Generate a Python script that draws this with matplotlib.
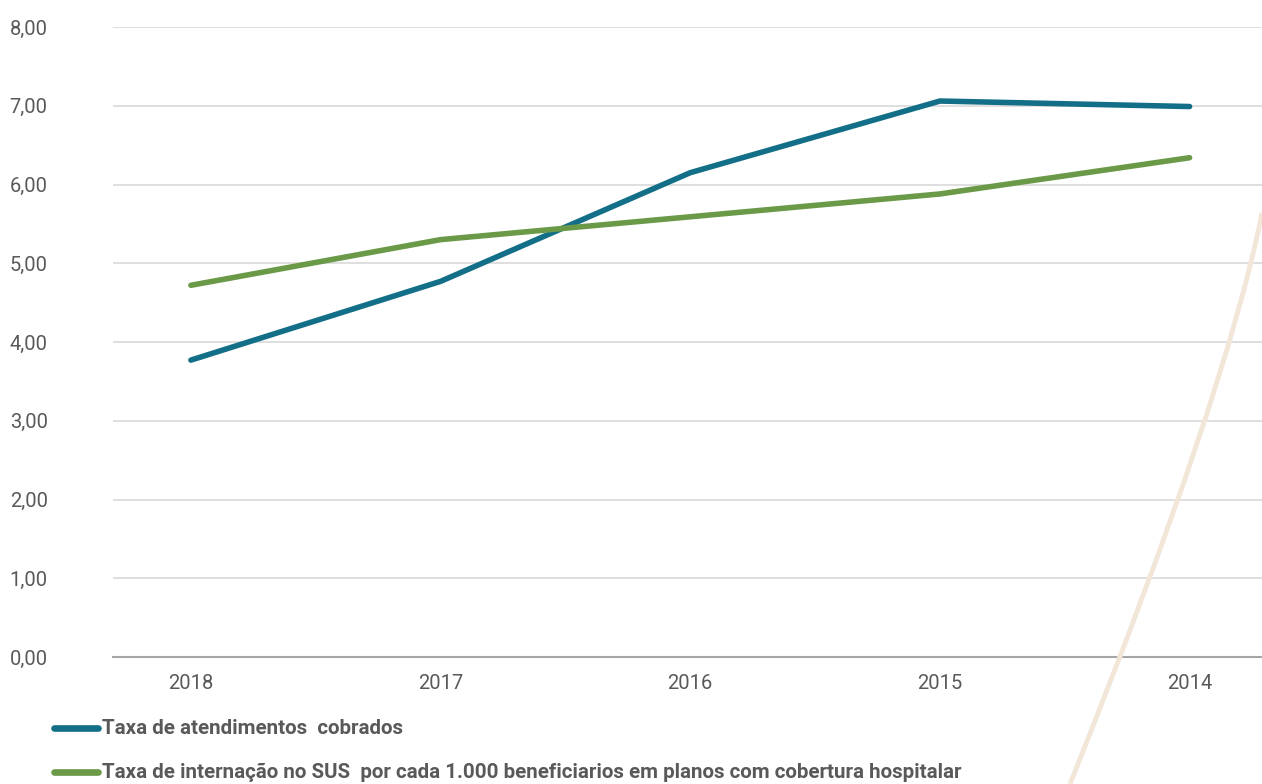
import numpy as np
import matplotlib
matplotlib.use('Agg')
import matplotlib.pyplot as plt
from matplotlib.lines import Line2D
from matplotlib.path import Path
from matplotlib.patches import PathPatch

# Data
years = ['2018', '2017', '2016', '2015', '2014']
taxa_atend = [3.77, 4.77, 6.15, 7.06, 6.99]
taxa_intern = [4.72, 5.30, 5.59, 5.88, 6.34]
labels = ['Taxa de atendimentos  cobrados',
          'Taxa de internação no SUS  por cada 1.000 beneficiarios em planos com cobertura hospitalar']
yticks = [0, 1, 2, 3, 4, 5, 6, 7, 8]

teal = '#136F88'
green = '#6A9A48'
grey_txt = '#595959'

W, H = 1262, 784
fig = plt.figure(figsize=(W / 100, H / 100), dpi=100)
ax = fig.add_axes([113 / W, (H - 657) / H, 1 - 113 / W, (657 - 27) / H])

x = np.arange(len(years))
ax.plot(x, taxa_atend, color=teal, lw=4, solid_capstyle='round', solid_joinstyle='round', zorder=3)
ax.plot(x, taxa_intern, color=green, lw=4, solid_capstyle='round', solid_joinstyle='round', zorder=3)

ax.set_xlim(-0.312, 4.29)
ax.set_ylim(0, 8)
ax.set_yticks(yticks)
ax.set_yticklabels(['%d,00' % v for v in yticks])
ax.set_xticks(x)
ax.set_xticklabels(years)
ax.grid(axis='y', color='#d9d9d9', lw=1.2)
ax.set_axisbelow(True)
for s in ['top', 'right', 'left']:
    ax.spines[s].set_visible(False)
ax.spines['bottom'].set_color('#a6a6a6')
ax.spines['bottom'].set_linewidth(1.5)
ax.tick_params(axis='both', length=0, colors=grey_txt, labelsize=14.5)
ax.tick_params(axis='y', pad=47)
ax.tick_params(axis='x', pad=12)
for t in ax.get_xticklabels() + ax.get_yticklabels():
    t.set_fontfamily('Roboto')
ax.patch.set_alpha(0)

# decorative beige arc on the right
verts = [(1070, H - 784), (1226, H - 395), (1262, H - 213)]
arc = Path(verts, [Path.MOVETO, Path.CURVE3, Path.CURVE3])
fig.patches.append(PathPatch(arc, transform=None, fill=False, edgecolor='#F2E6D9', lw=3.5, zorder=0))

# legend
for yy, col, lab in [(728, teal, labels[0]), (772, green, labels[1])]:
    fig.add_artist(Line2D([54 / W, 98 / W], [(H - yy) / H] * 2, color=col, lw=4.8, solid_capstyle='round'))
    fig.text(102 / W, (H - yy) / H, lab, color=grey_txt, fontsize=14.8, fontweight='bold',
             family='Roboto', va='center', ha='left')

fig.savefig('out.png', dpi=100)
